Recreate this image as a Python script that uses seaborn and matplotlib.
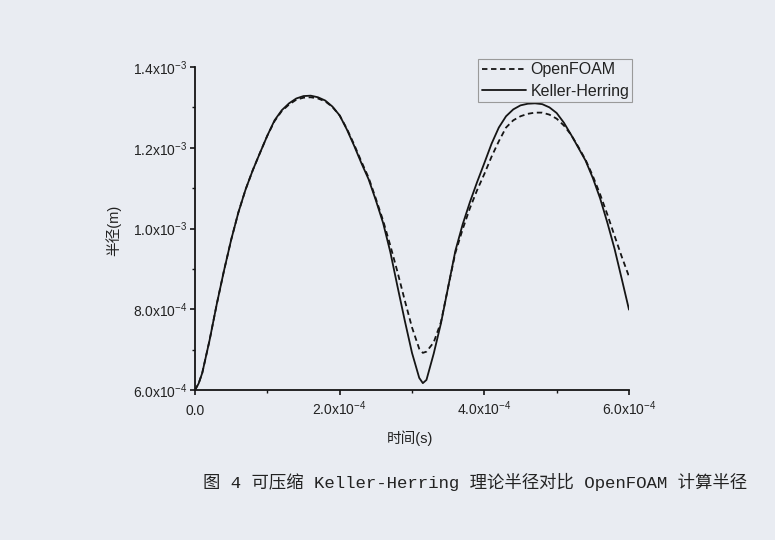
import numpy as np
import pandas as pd
import matplotlib
matplotlib.use("Agg")
import matplotlib.pyplot as plt
import seaborn as sns

# ---- data (time in units of 1e-5 s, radius in units of 1e-4 m) ----
time_e5 = [0, 0.5, 1, 2, 3, 4, 5, 6, 7, 8, 9, 10, 11, 12, 13, 14, 15, 16, 17, 18, 19,
           20, 21, 22, 23, 24, 25, 26, 27, 28, 29, 30, 31, 31.5, 32, 33, 34, 35,
           36, 37, 38, 39, 40, 41, 42, 43, 44, 45, 46, 47, 48, 49, 50, 51, 52,
           53, 54, 55, 56, 57, 58, 59, 60]

keller_herring_e4 = [6.00, 6.16, 6.42, 7.22, 8.12, 8.95, 9.72, 10.40, 10.97, 11.45, 11.88,
                     12.30, 12.68, 12.93, 13.10, 13.22, 13.28, 13.29, 13.25, 13.17, 13.02,
                     12.80, 12.45, 12.05, 11.62, 11.22, 10.70, 10.14, 9.42, 8.56, 7.72,
                     6.92, 6.30, 6.17, 6.25, 6.90, 7.65, 8.55, 9.45, 10.10, 10.65,
                     11.15, 11.62, 12.10, 12.50, 12.78, 12.95, 13.05, 13.09, 13.10, 13.08,
                     13.00, 12.86, 12.62, 12.32, 12.00, 11.68, 11.25, 10.75, 10.15, 9.50,
                     8.75, 7.99]

openfoam_e4 = [6.00, 6.16, 6.42, 7.22, 8.12, 8.95, 9.72, 10.40, 10.97, 11.45, 11.88,
               12.30, 12.66, 12.91, 13.07, 13.19, 13.24, 13.25, 13.22, 13.15, 13.01,
               12.80, 12.47, 12.08, 11.66, 11.26, 10.74, 10.20, 9.58, 8.92, 8.22,
               7.55, 7.02, 6.92, 6.95, 7.18, 7.68, 8.55, 9.40, 9.98, 10.50,
               10.95, 11.35, 11.78, 12.16, 12.50, 12.68, 12.78, 12.84, 12.87, 12.87,
               12.82, 12.72, 12.55, 12.32, 12.02, 11.70, 11.30, 10.85, 10.35, 9.82,
               9.30, 8.81]

series_names = ["OpenFOAM", "Keller-Herring"]

x_ticks = [0.0, 2.0e-4, 4.0e-4, 6.0e-4]
x_tick_labels = ["0.0", r"2.0x10$^{-4}$", r"4.0x10$^{-4}$", r"6.0x10$^{-4}$"]
y_ticks = [6.0e-4, 8.0e-4, 1.0e-3, 1.2e-3, 1.4e-3]
y_tick_labels = [r"6.0x10$^{-4}$", r"8.0x10$^{-4}$", r"1.0x10$^{-3}$",
                 r"1.2x10$^{-3}$", r"1.4x10$^{-3}$"]

x_label = "时间(s)"
y_label = "半径(m)"
caption = "图 4 可压缩 Keller-Herring 理论半径对比 OpenFOAM 计算半径"

# ---- build tidy table ----
t = np.array(time_e5) * 1e-5
df = pd.concat([
    pd.DataFrame({"t": t, "R": np.array(openfoam_e4) * 1e-4, "series": series_names[0]}),
    pd.DataFrame({"t": t, "R": np.array(keller_herring_e4) * 1e-4, "series": series_names[1]}),
], ignore_index=True)

sns.set_theme(style="ticks")
bg = "#e9ecf2"
plt.rcParams["font.family"] = ["Liberation Sans", "Noto Sans CJK SC", "DejaVu Sans"]
plt.rcParams["mathtext.fontset"] = "custom"
plt.rcParams["mathtext.rm"] = "Liberation Sans"
plt.rcParams["mathtext.it"] = "Liberation Sans:italic"
plt.rcParams["mathtext.bf"] = "Liberation Sans:bold"

fig = plt.figure(figsize=(7.75, 5.40), dpi=100, facecolor=bg)
ax = fig.add_axes([195 / 775, 1 - 390 / 540, 434 / 775, 323 / 540])
ax.set_facecolor(bg)

sns.lineplot(data=df, x="t", y="R", hue="series", style="series",
             palette={series_names[0]: "#151515", series_names[1]: "#151515"},
             dashes={series_names[0]: (3, 2), series_names[1]: ""},
             linewidth=1.3, ax=ax, legend=True, sort=False)

ax.set_xlim(0, 6.0e-4)
ax.set_ylim(6.0e-4, 1.4e-3)
ax.set_xticks(x_ticks)
ax.set_xticklabels(x_tick_labels)
ax.set_yticks(y_ticks)
ax.set_yticklabels(y_tick_labels)
ax.set_xticks([1e-4, 3e-4, 5e-4], minor=True)
ax.set_yticks([7e-4, 9e-4, 1.1e-3, 1.3e-3], minor=True)

for side in ["top", "right"]:
    ax.spines[side].set_visible(False)
for side in ["left", "bottom"]:
    ax.spines[side].set_color("#151515")
    ax.spines[side].set_linewidth(1.3)

ax.tick_params(axis="both", which="major", direction="out", length=3.6, width=1.2,
               colors="#151515", labelsize=10, labelcolor="#222222")
ax.tick_params(axis="both", which="minor", direction="out", length=2.2, width=1.0,
               colors="#151515")
ax.tick_params(axis="x", which="major", pad=14.5)
ax.tick_params(axis="y", which="major", pad=2)
for lbl in ax.get_xticklabels():
    lbl.set_verticalalignment("baseline")

ax.set_xlabel(x_label, fontsize=10.5, color="#222222")
ax.set_ylabel(y_label, fontsize=10.5, color="#222222")
ax.xaxis.set_label_coords(0.495, -0.125)
ax.yaxis.set_label_coords(-0.17, 0.495)

leg = ax.legend(loc="upper right", bbox_to_anchor=(1.008, 1.025), frameon=True,
                fancybox=False, edgecolor="#9a9a9a", facecolor=bg, framealpha=1,
                fontsize=11.5, handlelength=2.8, handletextpad=0.25,
                borderpad=0.2, labelspacing=0.4, borderaxespad=0.0, title=None)
leg.get_frame().set_linewidth(0.8)
for txt in leg.get_texts():
    txt.set_color("#222222")

fig.text(475 / 775, 1 - 482 / 540, caption, ha="center", va="center",
         fontsize=12.5, color="#222222",
         family=["Liberation Mono", "Noto Sans CJK SC", "DejaVu Sans"])

fig.savefig("out.png", dpi=100, facecolor=bg)
